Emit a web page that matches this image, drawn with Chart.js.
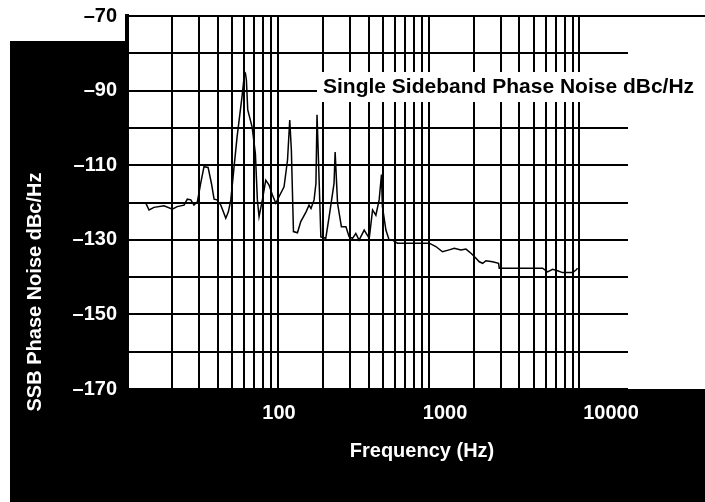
<!DOCTYPE html>
<html lang="en">
  <head>
    <meta charset="UTF-8" />
    <title>SSB Phase Noise</title>
    <script src="https://cdn.jsdelivr.net/npm/chart.js"></script>
    <style>
      html,
      body {
        margin: 0;
        padding: 0;
        background: #fff;
      }
      #wrap {
        width: 705px;
        height: 502px;
      }
    </style>
  </head>
  <body>
    <div id="wrap"><canvas id="noiseChart"></canvas></div>

    <script>
      // Frequency (Hz) and single sideband phase noise (dBc/Hz)
      const freqHz = [
        13.3, 14.0, 15.1, 17.6, 20.0, 21.5, 23.9, 25.1, 26.5, 27.8, 29.3,
        30.8, 32.4, 34.5, 36.3, 37.8, 39.5, 41.9, 45.2, 47.0, 48.8, 51.3,
        53.7, 57.9, 60.0, 61.0, 61.9, 63.2, 67.5, 71.0, 73.2, 75.1, 79.0,
        83.2, 87.5, 92.1, 97.0, 102, 110, 116, 120, 123, 127, 135, 142, 154,
        161, 166, 174, 179, 182, 187, 193, 208, 219, 236, 240, 249, 264, 283,
        297, 313, 329, 346, 374, 404, 425, 447, 470, 487, 494, 521, 548, 576,
        622, 800, 1009, 1117, 1236, 1370, 1479, 1638, 1768, 1910, 2010, 2169,
        2281, 2401, 2656, 2911, 2941, 5700, 6152, 6640, 7165, 7738, 9018,
        9490, 9725,
      ];
      const ssbDbc = [
        -120.1, -122.0, -121.3, -120.9, -121.8, -121.1, -120.7, -119.1,
        -119.3, -120.7, -119.8, -114.9, -110.4, -110.6, -114.9, -119.1,
        -119.3, -120.7, -124.2, -122.5, -119.3, -110.4, -102.4, -91.6, -85.8,
        -85.4, -87.2, -95.2, -99.7, -106.8, -119.3, -123.8, -119.3, -114.0,
        -115.3, -118.0, -120.2, -118.4, -115.8, -108.6, -97.9, -105.9,
        -127.8, -128.1, -125.1, -122.5, -120.7, -121.6, -119.3, -114.9,
        -96.5, -111.3, -129.2, -129.6, -123.8, -114.9, -106.5, -120.2,
        -126.5, -126.5, -129.2, -129.6, -128.3, -130.1, -127.4, -129.6,
        -122.0, -123.4, -119.3, -112.5, -121.1, -127.4, -130.1, -130.1,
        -130.9, -130.9, -130.9, -131.8, -133.2, -132.7, -132.3, -132.7,
        -132.5, -133.6, -134.5, -135.9, -136.3, -135.6, -135.9, -136.3,
        -137.6, -137.6, -138.6, -137.9, -138.3, -138.8, -138.8, -138.1,
        -137.6,
      ];

      // Axis ticks
      const gridDecades = [10, 100, 1000];
      const freqLabels = [100, 1000, 10000];
      const dbcMin = -170;
      const dbcMax = -70;

      const fontFamily = "'Liberation Sans', Arial, sans-serif";

      // grid lines at 1..9 x each decade, ending at 10 kHz
      const gridTicks = [];
      gridDecades.forEach((d) => {
        for (let m = 1; m <= 9; m++) gridTicks.push({ value: d * m });
      });
      gridTicks.push({ value: 10000 });

      // black panel, white plot area, title box, axis titles
      const paperPlugin = {
        id: "paper",
        beforeDraw(chart) {
          const { ctx, chartArea: a, width, height } = chart;
          ctx.save();
          ctx.fillStyle = "#fff";
          ctx.fillRect(0, 0, width, height);
          ctx.fillStyle = "#000";
          ctx.fillRect(10, 41, width - 10, height - 41);
          ctx.fillStyle = "#fff";
          ctx.fillRect(a.left, a.top, width - a.left, a.bottom - a.top);
          ctx.restore();
        },
        beforeDatasetsDraw(chart) {
          const { ctx, chartArea: a, width } = chart;
          ctx.save();
          // the title sits on a white box that breaks the grid
          ctx.fillStyle = "#fff";
          ctx.fillRect(317, a.top + 56, width - 317, 30);
          ctx.fillStyle = "#000";
          ctx.font = "bold 21px " + fontFamily;
          ctx.textBaseline = "alphabetic";
          ctx.fillText("Single Sideband Phase Noise dBc/Hz", 323, a.top + 77);
          // top frame line runs on to the right edge
          ctx.fillRect(a.left, a.top - 1, width - a.left, 2);
          ctx.restore();
        },
        afterDraw(chart) {
          const { ctx } = chart;
          ctx.save();
          ctx.fillStyle = "#fff";
          ctx.font = "bold 20px " + fontFamily;
          ctx.textAlign = "center";
          ctx.textBaseline = "middle";
          ctx.fillText("Frequency (Hz)", 422, 451);
          ctx.translate(35, 292);
          ctx.rotate(-Math.PI / 2);
          ctx.fillText("SSB Phase Noise dBc/Hz", 0, 0);
          ctx.restore();
        },
      };

      const ctx = document.getElementById("noiseChart").getContext("2d");
      new Chart(ctx, {
        type: "line",
        data: {
          datasets: [
            {
              data: freqHz.map((f, i) => ({ x: f, y: ssbDbc[i] })),
              borderColor: "#000",
              borderWidth: 1.5,
              pointRadius: 0,
              tension: 0,
              fill: false,
            },
          ],
        },
        options: {
          responsive: true,
          maintainAspectRatio: false,
          animation: false,
          layout: { padding: { left: 0, top: 16, right: 77, bottom: 0 } },
          plugins: {
            legend: { display: false },
            tooltip: { enabled: false },
          },
          scales: {
            x: {
              type: "logarithmic",
              position: "bottom",
              min: 10,
              max: 21000,
              afterBuildTicks: (scale) => {
                scale.ticks = gridTicks.map((t) => ({ value: t.value }));
              },
              afterFit: (scale) => {
                scale.height = 0;
              },
              ticks: { display: false },
              grid: { color: "#000", lineWidth: 2, drawTicks: false },
              border: { display: false },
            },
            // the printed labels sit a little right of their grid lines,
            // so they get an axis of their own
            xLabels: {
              type: "logarithmic",
              position: "bottom",
              min: 12.14,
              max: 12650,
              afterBuildTicks: (scale) => {
                scale.ticks = freqLabels.map((v) => ({ value: v }));
              },
              afterFit: (scale) => {
                scale.height = 113;
              },
              ticks: {
                color: "#fff",
                padding: 4,
                maxRotation: 0,
                autoSkip: false,
                font: { family: fontFamily, size: 20, weight: "bold" },
                callback: (v) => String(v),
              },
              grid: { display: false },
              border: { display: false },
            },
            y: {
              min: dbcMin,
              max: dbcMax,
              afterFit: (scale) => {
                scale.width = 127;
                // let the top label hang over the frame like the print
                scale.paddingTop = 0;
                scale.paddingBottom = 0;
              },
              ticks: {
                stepSize: 10,
                padding: 10,
                color: (c) => (c.tick && c.tick.value === dbcMax ? "#000" : "#fff"),
                font: { family: fontFamily, size: 20, weight: "bold" },
                callback: (v) =>
                  Math.abs(v - dbcMax) % 20 === 0 ? "\u2013" + Math.abs(v) : "",
              },
              grid: { color: "#000", lineWidth: 2, drawTicks: false },
              border: { display: true, color: "#000", width: 4 },
            },
          },
        },
        plugins: [paperPlugin],
      });
    </script>
  </body>
</html>
